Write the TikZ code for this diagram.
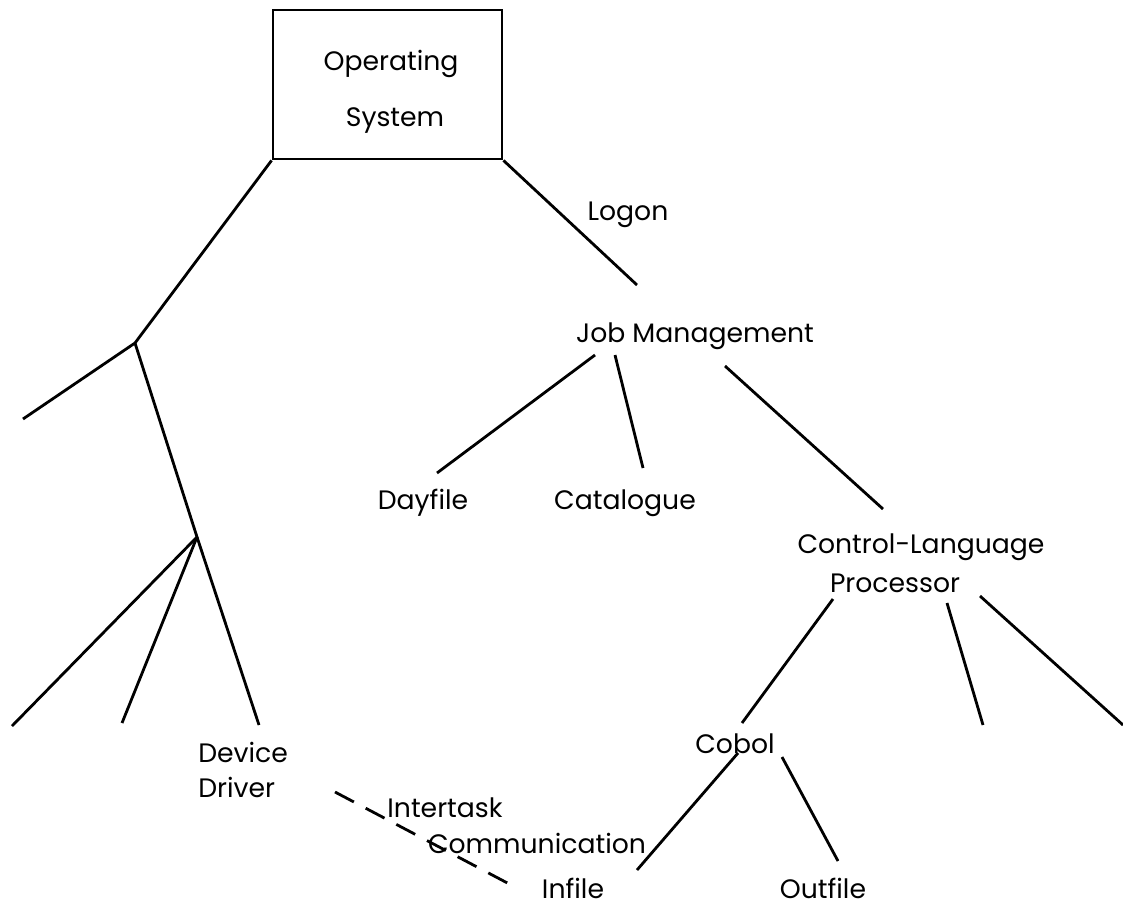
\documentclass[tikz,border=0pt]{standalone}
\usepackage{fontspec}
\setmainfont{Poppins}
\usepackage{tikz}

\tikzset{
  lbl/.style={anchor=base, inner sep=0.75pt, font=\fontsize{20}{24}\selectfont},
  branch/.style={line width=2.1pt},
  talk/.style={line width=2.1pt, dash pattern=on 16pt off 10pt}
}

\begin{document}
\begin{tikzpicture}[x=0.75pt,y=0.75pt,yscale=-1,xscale=1]
\path[use as bounding box, fill=white] (0,0) rectangle (1123,907);

% Box
\node [draw, line width=2.1pt, minimum width=171.75pt, minimum height=111.75pt, inner sep=0pt] (os) at (387.5,84.5) {};
% Text Node
\node [lbl] (operating) at (391,70) {Operating};
\node [lbl] (system) at (395,126) {System};
\node [lbl] (logon) at (628,220) {Logon};
\node [lbl] (job) at (695,342) {Job Management};
\node [lbl] (dayfile) at (423,509) {Dayfile};
\node [lbl] (catalogue) at (625,509) {Catalogue};
\node [lbl] (clang) at (921,553) {Control-Language};
\node [lbl] (proc) at (895,592) {Processor};
\node [lbl] (cobol) at (735,753) {Cobol};
\node [lbl, anchor=base west] (device) at (197,762) {Device};
\node [lbl, anchor=base west] (driver) at (197,797) {Driver};
\node [lbl] (intertask) at (445,817) {Intertask};
\node [lbl] (comm) at (537,853) {Communication};
\node [lbl] (infile) at (573,898) {Infile};
\node [lbl] (outfile) at (823,898) {Outfile};

% Branch points and free ends
\coordinate (b1) at (135,343);
\coordinate (b2) at (197,537);
\coordinate (l1) at (23,419);
\coordinate (l2) at (12,726);
\coordinate (l3) at (122,723);
\coordinate (l4) at (259,725);
\coordinate (j0) at (637,285);
\coordinate (j1) at (595,355);
\coordinate (j2) at (615,355);
\coordinate (j3) at (725,366);
\coordinate (d1) at (437,473);
\coordinate (c1) at (643,468);
\coordinate (p0) at (883,509);
\coordinate (p1) at (833,599);
\coordinate (p2) at (947,603);
\coordinate (p3) at (980,596);
\coordinate (k0) at (742,723);
\coordinate (r2) at (983,725);
\coordinate (r3) at (1123,725);
\coordinate (k1) at (738,753);
\coordinate (k2) at (782,757);
\coordinate (f1) at (637,870);
\coordinate (f2) at (838,861);
\coordinate (t0) at (335,792);
\coordinate (t1) at (515,887);

%Straight Lines
\draw [branch] (os.south west) -- (b1) -- (l1);
\draw [branch] (b1) -- (b2) -- (l2);
\draw [branch] (b2) -- (l3);
\draw [branch] (b2) -- (l4);
\draw [branch] (os.south east) -- (j0);
\draw [branch] (j1) -- (d1);
\draw [branch] (j2) -- (c1);
\draw [branch] (j3) -- (p0);
\draw [branch] (p1) -- (k0);
\draw [branch] (p2) -- (r2);
\draw [branch] (p3) -- (r3);
\draw [branch] (k1) -- (f1);
\draw [branch] (k2) -- (f2);
%Dashed Line
\draw [talk] (t0) -- (t1);

\end{tikzpicture}
\end{document}
